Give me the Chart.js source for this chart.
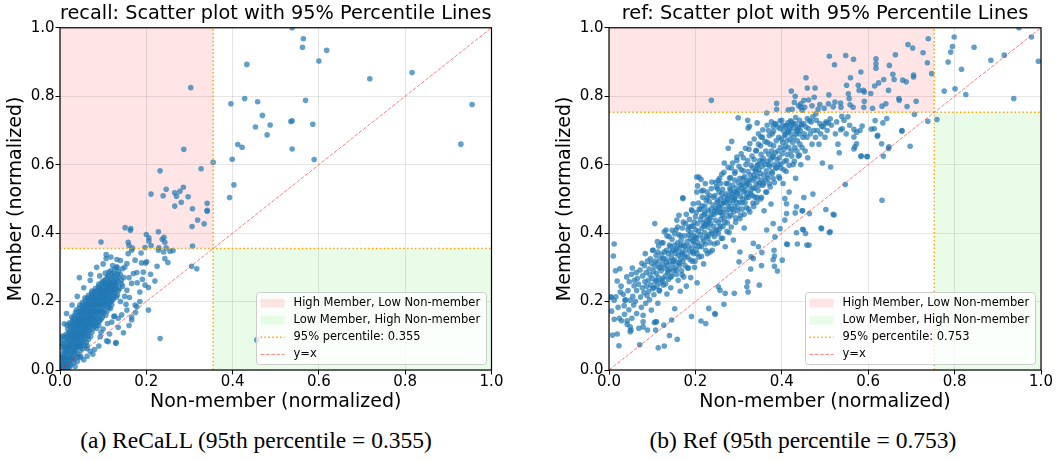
<!DOCTYPE html>
<html>
<head>
<meta charset="utf-8">
<script src="https://cdn.jsdelivr.net/npm/chart.js@4.4.0/dist/chart.umd.min.js"></script>
<style>
body { margin: 0; background: #fff; width: 1056px; height: 461px; position: relative; overflow: hidden; }
canvas { position: absolute; top: 0; }
.cap { position: absolute; top: 427px; font-family: 'Liberation Serif', serif; font-size: 23.5px; line-height: 26px; white-space: nowrap; transform: translateX(-50%); color: #000; }
</style>
</head>
<body>
<canvas id="recallChart" width="549" height="420" style="left:0"></canvas>
<canvas id="refChart" width="507" height="420" style="left:549px"></canvas>
<div class="cap" style="left:256px">(a) ReCaLL (95th percentile = 0.355)</div>
<div class="cap" style="left:803px">(b) Ref (95th percentile = 0.753)</div>
<script>
// [non-member, member] pairs
const recallPct = 0.355;
const refPct = 0.753;

const recallCore = [
  [0.003,0.005],[0.008,0.012],[0.012,0.006],[0.015,0.018],[0.004,0.022],[0.010,0.028],[0.018,0.010],[0.021,0.025],[0.006,0.035],[0.025,0.015],[0.013,0.032],[0.028,0.030],[0.002,0.015],[0.017,0.002],[0.022,0.008],[0.031,0.021],
  [0.005,0.045],[0.011,0.041],[0.018,0.048],[0.024,0.040],[0.030,0.044],[0.036,0.050],[0.042,0.046],[0.008,0.058],[0.015,0.055],[0.022,0.062],[0.028,0.057],[0.034,0.060],[0.040,0.065],[0.047,0.058],[0.052,0.063],[0.003,0.068],
  [0.007,0.075],[0.013,0.071],[0.019,0.078],[0.025,0.072],[0.031,0.080],[0.037,0.076],[0.043,0.083],[0.049,0.078],[0.055,0.085],[0.061,0.080],[0.010,0.088],[0.017,0.092],[0.023,0.086],[0.029,0.094],[0.035,0.089],[0.041,0.096],[0.047,0.091],[0.053,0.098],[0.059,0.093],[0.066,0.090],
  [0.014,0.104],[0.020,0.109],[0.026,0.102],[0.032,0.110],[0.038,0.105],[0.044,0.112],[0.050,0.106],[0.056,0.114],[0.062,0.108],[0.068,0.115],[0.074,0.110],[0.018,0.120],[0.025,0.126],[0.031,0.119],[0.037,0.127],[0.043,0.121],[0.049,0.129],[0.055,0.123],[0.061,0.131],[0.067,0.125],[0.073,0.132],[0.079,0.127],[0.085,0.122],
  [0.022,0.138],[0.029,0.143],[0.035,0.136],[0.041,0.145],[0.047,0.139],[0.053,0.147],[0.059,0.141],[0.065,0.149],[0.071,0.143],[0.077,0.151],[0.083,0.145],[0.089,0.140],[0.095,0.148],[0.027,0.155],[0.034,0.160],
  [0.040,0.156],[0.046,0.163],[0.052,0.157],[0.058,0.165],[0.064,0.159],[0.070,0.167],[0.076,0.161],[0.082,0.169],[0.088,0.163],[0.094,0.171],[0.100,0.165],[0.106,0.160],
  [0.038,0.176],[0.045,0.182],[0.051,0.175],[0.057,0.184],[0.063,0.178],[0.069,0.186],[0.075,0.180],[0.081,0.188],[0.087,0.182],[0.093,0.190],[0.099,0.184],[0.105,0.192],[0.111,0.186],[0.117,0.180],
  [0.052,0.197],[0.058,0.203],[0.064,0.196],[0.070,0.205],[0.076,0.199],[0.082,0.207],[0.088,0.201],[0.094,0.209],[0.100,0.203],[0.106,0.211],[0.112,0.205],[0.118,0.200],[0.124,0.208],
  [0.066,0.218],[0.073,0.224],[0.079,0.217],[0.085,0.226],[0.091,0.220],[0.097,0.228],[0.103,0.222],[0.109,0.230],[0.115,0.224],[0.121,0.232],[0.127,0.226],[0.133,0.219],
  [0.082,0.238],[0.089,0.244],[0.095,0.237],[0.101,0.246],[0.107,0.240],[0.113,0.248],[0.119,0.242],[0.125,0.250],[0.131,0.244],[0.138,0.238],
  [0.098,0.258],[0.106,0.265],[0.114,0.257],[0.121,0.268],[0.128,0.261],[0.135,0.271],[0.142,0.263],[0.112,0.276],[0.126,0.281],[0.140,0.279],[0.148,0.270],
  [0.118,0.290],[0.127,0.295],[0.135,0.288],[0.131,0.300],[0.122,0.305],[0.144,0.296]
];
const recallCoreFill = [
  [0.001,0.001],[0.006,0.002],[0.010,0.000],[0.001,0.008],[0.014,0.012],[0.020,0.016],
  [0.002,0.038],[0.009,0.036],[0.016,0.037],[0.023,0.034],[0.029,0.037],[0.035,0.033],[0.041,0.038],[0.047,0.036],
  [0.010,0.066],[0.017,0.067],[0.024,0.069],[0.031,0.066],[0.037,0.068],[0.044,0.070],[0.050,0.070],[0.057,0.072],[0.063,0.071],
  [0.006,0.099],[0.012,0.097],[0.019,0.099],[0.026,0.096],[0.033,0.099],[0.039,0.101],[0.046,0.100],[0.052,0.102],[0.058,0.101],[0.065,0.100],[0.071,0.098],
  [0.016,0.131],[0.023,0.133],[0.030,0.131],[0.036,0.134],[0.042,0.132],[0.048,0.134],[0.054,0.133],[0.060,0.135],[0.066,0.133],[0.072,0.136],[0.078,0.135],[0.084,0.132],[0.090,0.130],
  [0.031,0.150],[0.038,0.149],[0.044,0.151],[0.050,0.150],[0.056,0.152],[0.062,0.151],[0.068,0.153],[0.074,0.152],[0.080,0.154],[0.086,0.152],[0.092,0.155],[0.098,0.154],
  [0.036,0.168],[0.043,0.170],[0.049,0.169],[0.055,0.171],[0.061,0.170],[0.067,0.172],[0.073,0.171],[0.079,0.173],[0.085,0.172],[0.091,0.174],[0.097,0.173],[0.103,0.175],[0.109,0.172],
  [0.046,0.190],[0.053,0.189],[0.060,0.191],[0.066,0.190],[0.072,0.192],[0.078,0.191],[0.084,0.194],[0.090,0.193],[0.096,0.195],[0.102,0.196],[0.108,0.197],[0.114,0.194],[0.120,0.191],
  [0.058,0.211],[0.064,0.210],[0.071,0.212],[0.077,0.211],[0.083,0.213],[0.089,0.212],[0.095,0.215],[0.101,0.214],[0.107,0.216],[0.113,0.215],[0.119,0.217],[0.125,0.216],[0.131,0.213],
  [0.074,0.231],[0.080,0.230],[0.087,0.232],[0.093,0.231],[0.099,0.233],[0.105,0.233],[0.111,0.236],[0.117,0.235],[0.123,0.238],[0.129,0.236],[0.135,0.232],
  [0.090,0.251],[0.097,0.252],[0.104,0.253],[0.110,0.252],[0.117,0.254],[0.123,0.256],[0.129,0.254],[0.136,0.257],[0.142,0.252],
  [0.105,0.283],[0.113,0.286],[0.120,0.282],[0.133,0.280]
];
const recallCoreExtra = [
  [0.004,0.011],[0.009,0.019],[0.013,0.025],[0.007,0.029],[0.019,0.031],[0.011,0.050],[0.020,0.053],[0.027,0.049],[0.033,0.054],[0.014,0.063],[0.021,0.069],[0.038,0.071],[0.045,0.074],[0.016,0.083],[0.026,0.081],[0.033,0.085],[0.040,0.087],[0.050,0.088],
  [0.023,0.114],[0.029,0.106],[0.035,0.116],[0.041,0.108],[0.047,0.117],[0.053,0.110],[0.059,0.119],[0.065,0.112],[0.028,0.124],[0.040,0.124],[0.052,0.126],[0.064,0.128],[0.076,0.121],
  [0.033,0.141],[0.044,0.142],[0.056,0.144],[0.068,0.146],[0.080,0.140],[0.092,0.144],[0.049,0.160],[0.061,0.162],[0.073,0.164],[0.085,0.166],[0.097,0.168],
  [0.054,0.179],[0.066,0.181],[0.078,0.183],[0.090,0.186],[0.102,0.188],[0.114,0.183],[0.067,0.200],[0.079,0.202],[0.091,0.205],[0.103,0.207],[0.115,0.208],[0.121,0.204],
  [0.076,0.221],[0.088,0.223],[0.100,0.225],[0.112,0.227],[0.124,0.229],[0.092,0.241],[0.104,0.243],[0.116,0.245],[0.128,0.247],[0.102,0.261],[0.117,0.263],[0.131,0.266],[0.110,0.270],[0.124,0.274]
];
const recallSpread = [
  [0.232,0.092],[0.147,0.109],[0.130,0.080],[0.108,0.085],[0.076,0.046],[0.063,0.040],[0.153,0.192],[0.174,0.190],[0.166,0.146],[0.166,0.155],[0.126,0.158],[0.135,0.151],[0.185,0.228],[0.197,0.248],[0.191,0.265],[0.178,0.285],[0.166,0.253],[0.189,0.313],[0.198,0.313],[0.155,0.311],[0.158,0.340],[0.166,0.350],[0.188,0.342],[0.107,0.337],[0.107,0.326],[0.132,0.323],[0.132,0.301],[0.071,0.280],[0.243,0.326],[0.255,0.347],[0.305,0.303],[0.317,0.296],[0.174,0.321],[0.201,0.316],[0.193,0.286],[0.170,0.282],[0.179,0.255],[0.205,0.241],[0.225,0.303],[0.250,0.314],[0.155,0.233],[0.161,0.212],[0.178,0.185],[0.205,0.175],[0.125,0.156],[0.143,0.161],[0.110,0.136],[0.129,0.078],[0.112,0.083],[0.093,0.097],[0.062,0.063],[0.456,0.088],
  [0.002,0.095],[0.004,0.080],[0.010,0.135],[0.015,0.165],[0.028,0.190],[0.040,0.215],[0.055,0.240],[0.045,0.270],[0.070,0.262],[0.085,0.300],[0.092,0.275],[0.100,0.310],[0.118,0.330],[0.140,0.320],[0.150,0.300],[0.145,0.245],[0.160,0.270],[0.150,0.215],[0.140,0.200],[0.155,0.175],[0.120,0.140],[0.135,0.125],[0.100,0.120],[0.115,0.105],[0.090,0.070],[0.070,0.055],[0.055,0.030],[0.040,0.025],[0.035,0.010],[0.048,0.040],[0.080,0.060],[0.095,0.110],[0.160,0.130],[0.175,0.168],[0.185,0.200],[0.210,0.280],[0.220,0.260],[0.228,0.350],[0.262,0.349],[0.240,0.345]
];
const recallHigh = [
  [0.303,0.825],[0.287,0.645],[0.355,0.607],[0.327,0.588],[0.232,0.582],[0.286,0.534],[0.246,0.528],[0.266,0.518],[0.278,0.522],[0.211,0.514],[0.239,0.509],[0.270,0.508],[0.297,0.506],[0.281,0.490],[0.266,0.479],[0.307,0.471],[0.341,0.487],[0.341,0.467],[0.341,0.464],[0.319,0.438],[0.334,0.427],[0.306,0.419],[0.151,0.416],[0.164,0.413],[0.163,0.408],[0.095,0.374],[0.200,0.396],[0.206,0.386],[0.206,0.377],[0.228,0.404],[0.241,0.388],[0.237,0.382],[0.243,0.373],[0.158,0.373],[0.160,0.364],[0.197,0.358],[0.211,0.364],[0.229,0.357],[0.246,0.357],[0.307,0.362],[0.168,0.356]
];
const recallFar = [
  [0.538,1.0],[0.564,0.968],[0.562,0.943],[0.618,0.934],[0.600,0.903],[0.433,0.893],[0.718,0.851],[0.816,0.869],[0.428,0.793],[0.458,0.784],[0.569,0.788],[0.396,0.778],[0.955,0.776],[0.469,0.744],[0.535,0.726],[0.538,0.728],[0.586,0.718],[0.453,0.710],[0.487,0.716],[0.480,0.687],[0.412,0.659],[0.422,0.651],[0.538,0.646],[0.929,0.660],[0.589,0.615],[0.399,0.616],[0.403,0.541],[0.393,0.504]
];

const refLow = [
  [0.012,0.368],[0.010,0.333],[0.019,0.260],[0.004,0.212],[0.016,0.214],[0.012,0.148],[0.008,0.102],[0.019,0.105],[0.023,0.071],[0.026,0.228],[0.021,0.183],[0.028,0.245],[0.006,0.172],[0.025,0.296],[0.015,0.290],[0.005,0.214],[0.012,0.204],[0.037,0.204],[0.049,0.204],[0.024,0.151],
  [0.029,0.144],[0.042,0.144],[0.049,0.112],[0.051,0.117],[0.035,0.188],[0.038,0.205],[0.044,0.232],[0.047,0.258],[0.052,0.280],[0.041,0.272],[0.055,0.215],[0.058,0.246],[0.033,0.221],[0.057,0.190],[0.046,0.176],[0.054,0.298],[0.059,0.262],[0.036,0.163],[0.042,0.134],[0.049,0.126],[0.053,0.151],
  [0.061,0.201],[0.064,0.232],[0.066,0.268],[0.068,0.251],[0.069,0.122],[0.071,0.074],[0.072,0.292],[0.073,0.213],[0.075,0.183],[0.077,0.240],[0.078,0.275],[0.079,0.160],[0.081,0.226],[0.082,0.305],[0.083,0.258],[0.084,0.340],[0.085,0.195],[0.086,0.285],[0.087,0.245],[0.088,0.218],[0.089,0.318],[0.063,0.285],[0.076,0.312],[0.064,0.165],[0.079,0.141],[0.079,0.126],[0.089,0.117],
  [0.091,0.262],[0.092,0.230],[0.093,0.295],[0.094,0.205],[0.095,0.278],[0.096,0.325],[0.097,0.248],[0.098,0.175],[0.099,0.312],[0.100,0.268],[0.101,0.238],[0.102,0.350],[0.103,0.288],[0.104,0.220],[0.105,0.302],[0.106,0.428],[0.107,0.258],[0.108,0.141],[0.109,0.335],[0.110,0.282],[0.111,0.245],[0.112,0.312],[0.113,0.195],[0.114,0.270],[0.115,0.362],[0.116,0.298],[0.117,0.232],[0.118,0.325],[0.119,0.255],[0.114,0.065],[0.112,0.375],[0.108,0.117],[0.110,0.141],
  [0.121,0.290],[0.122,0.338],[0.123,0.262],[0.124,0.310],[0.125,0.372],[0.126,0.248],[0.127,0.131],[0.128,0.070],[0.128,0.404],[0.129,0.298],[0.130,0.325],[0.131,0.275],[0.132,0.409],[0.133,0.350],[0.134,0.222],[0.135,0.305],[0.136,0.285],[0.137,0.340],[0.138,0.265],[0.139,0.390],[0.140,0.101],[0.140,0.318],[0.141,0.295],[0.142,0.360],[0.143,0.240],[0.144,0.330],[0.145,0.275],[0.146,0.382],[0.147,0.308],[0.148,0.350],[0.149,0.290],[0.125,0.325],[0.133,0.315],[0.145,0.345],[0.145,0.146],[0.105,0.139]
];
const refMid = [
  [0.151,0.322],[0.152,0.179],[0.152,0.365],[0.153,0.298],[0.154,0.340],[0.155,0.410],[0.156,0.280],[0.157,0.438],[0.157,0.350],[0.158,0.090],[0.158,0.315],[0.159,0.372],[0.160,0.262],[0.161,0.335],[0.162,0.452],[0.162,0.395],[0.163,0.305],[0.164,0.358],[0.165,0.230],[0.166,0.325],[0.167,0.380],[0.168,0.290],[0.169,0.345],[0.170,0.415],[0.171,0.501],[0.171,0.318],[0.172,0.365],[0.173,0.272],[0.174,0.338],[0.175,0.392],[0.176,0.305],[0.177,0.428],[0.178,0.352],[0.179,0.245],[0.155,0.355],[0.165,0.365],[0.175,0.362],[0.168,0.340],
  [0.181,0.375],[0.182,0.330],[0.183,0.410],[0.184,0.298],[0.185,0.362],[0.186,0.440],[0.187,0.345],[0.188,0.385],[0.189,0.270],[0.190,0.402],[0.191,0.156],[0.191,0.355],[0.192,0.465],[0.193,0.318],[0.194,0.378],[0.195,0.486],[0.195,0.420],[0.196,0.340],[0.197,0.392],[0.198,0.300],[0.199,0.365],[0.200,0.448],[0.201,0.410],[0.202,0.352],[0.203,0.520],[0.203,0.385],[0.204,0.255],[0.205,0.538],[0.205,0.428],[0.206,0.372],[0.207,0.405],[0.208,0.564],[0.208,0.330],[0.209,0.470],[0.185,0.395],[0.195,0.375],[0.200,0.388],[0.190,0.420],
  [0.211,0.395],[0.212,0.440],[0.213,0.557],[0.213,0.143],[0.214,0.360],[0.214,0.523],[0.215,0.415],[0.216,0.480],[0.217,0.385],[0.218,0.525],[0.218,0.430],[0.219,0.310],[0.220,0.455],[0.221,0.402],[0.222,0.478],[0.223,0.545],[0.223,0.368],[0.224,0.136],[0.224,0.425],[0.225,0.495],[0.226,0.390],[0.227,0.448],[0.228,0.504],[0.228,0.340],[0.229,0.418],[0.230,0.465],[0.231,0.180],[0.231,0.395],[0.232,0.440],[0.233,0.510],[0.234,0.372],[0.235,0.428],[0.236,0.470],[0.237,0.405],[0.238,0.549],[0.238,0.455],[0.239,0.350],[0.215,0.450],[0.225,0.435],[0.235,0.445],[0.220,0.420],[0.230,0.430],
  [0.241,0.482],[0.242,0.420],[0.243,0.455],[0.244,0.390],[0.245,0.165],[0.245,0.510],[0.246,0.163],[0.246,0.438],[0.247,0.472],[0.248,0.405],[0.249,0.535],[0.250,0.460],[0.251,0.372],[0.252,0.495],[0.253,0.554],[0.253,0.430],[0.254,0.478],[0.255,0.520],[0.256,0.412],[0.257,0.462],[0.258,0.500],[0.259,0.440],[0.260,0.385],[0.261,0.572],[0.261,0.485],[0.262,0.452],[0.263,0.528],[0.264,0.420],[0.265,0.470],[0.266,0.192],[0.266,0.505],[0.267,0.605],[0.267,0.445],[0.268,0.490],[0.269,0.224],[0.269,0.360],[0.245,0.465],[0.255,0.475],[0.265,0.488],[0.250,0.490],[0.260,0.460],[0.258,0.545],[0.257,0.233],[0.253,0.243],
  [0.271,0.515],[0.272,0.460],[0.273,0.495],[0.274,0.430],[0.275,0.545],[0.276,0.478],[0.277,0.510],[0.278,0.402],[0.279,0.560],[0.280,0.488],[0.281,0.525],[0.282,0.452],[0.283,0.590],[0.284,0.505],[0.285,0.470],[0.286,0.540],[0.287,0.495],[0.288,0.380],[0.289,0.520],[0.290,0.224],[0.290,0.478],[0.291,0.555],[0.292,0.505],[0.293,0.445],[0.294,0.532],[0.295,0.490],[0.296,0.612],[0.297,0.515],[0.298,0.465],[0.299,0.737],[0.299,0.548],[0.275,0.500],[0.285,0.515],[0.295,0.520],[0.280,0.530],[0.290,0.500],[0.278,0.470],[0.292,0.580],[0.276,0.648],[0.284,0.668],[0.203,0.564],[0.171,0.503]
];
const refUpper = [
  [0.301,0.316],[0.301,0.525],[0.302,0.490],[0.303,0.560],[0.304,0.508],[0.305,0.452],[0.306,0.585],[0.307,0.532],[0.308,0.470],[0.309,0.545],[0.310,0.500],[0.311,0.620],[0.312,0.520],[0.313,0.415],[0.314,0.565],[0.315,0.490],[0.316,0.538],[0.317,0.600],[0.318,0.475],[0.319,0.243],[0.319,0.552],[0.320,0.515],[0.321,0.730],[0.321,0.258],[0.322,0.228],[0.322,0.580],[0.323,0.505],[0.324,0.645],[0.325,0.712],[0.325,0.540],[0.326,0.462],[0.327,0.570],[0.328,0.295],[0.328,0.525],[0.329,0.598],[0.305,0.540],[0.315,0.525],[0.325,0.555],[0.310,0.560],[0.320,0.545],
  [0.331,0.555],[0.332,0.510],[0.333,0.590],[0.334,0.532],[0.335,0.478],[0.336,0.615],[0.337,0.560],[0.338,0.505],[0.339,0.580],[0.340,0.640],[0.341,0.545],[0.342,0.490],[0.343,0.722],[0.343,0.598],[0.344,0.565],[0.345,0.525],[0.346,0.660],[0.347,0.585],[0.348,0.248],[0.348,0.540],[0.349,0.612],[0.350,0.575],[0.351,0.500],[0.352,0.630],[0.353,0.305],[0.353,0.555],[0.354,0.343],[0.354,0.595],[0.355,0.680],[0.356,0.540],[0.357,0.618],[0.358,0.570],[0.359,0.465],[0.335,0.570],[0.345,0.600],[0.355,0.610],[0.340,0.585],
  [0.361,0.600],[0.362,0.555],[0.363,0.640],[0.364,0.582],[0.365,0.751],[0.365,0.520],[0.366,0.665],[0.367,0.610],[0.368,0.570],[0.369,0.700],[0.370,0.630],[0.371,0.545],[0.372,0.595],[0.373,0.660],[0.374,0.615],[0.375,0.485],[0.376,0.640],[0.377,0.580],[0.378,0.690],[0.379,0.622],[0.380,0.322],[0.380,0.560],[0.381,0.655],[0.382,0.600],[0.383,0.303],[0.384,0.720],[0.385,0.635],[0.386,0.590],[0.387,0.670],[0.388,0.779],[0.388,0.762],[0.389,0.615],[0.390,0.289],[0.370,0.600],[0.380,0.625],
  [0.391,0.640],[0.392,0.600],[0.393,0.680],[0.394,0.620],[0.395,0.560],[0.396,0.705],[0.397,0.650],[0.398,0.590],[0.399,0.675],[0.400,0.730],[0.401,0.321],[0.401,0.632],[0.402,0.665],[0.403,0.545],[0.404,0.700],[0.405,0.645],[0.406,0.610],[0.407,0.685],[0.408,0.712],[0.409,0.655],[0.410,0.580],[0.411,0.368],[0.411,0.715],[0.412,0.670],[0.413,0.630],[0.414,0.695],[0.415,0.760],[0.416,0.650],[0.417,0.520],[0.418,0.705],[0.419,0.675],
  [0.421,0.690],[0.422,0.640],[0.423,0.725],[0.424,0.762],[0.425,0.665],[0.426,0.600],[0.427,0.705],[0.428,0.680],[0.429,0.782],[0.430,0.650],[0.431,0.720],[0.432,0.560],[0.433,0.690],[0.434,0.401],[0.435,0.698],[0.436,0.670],[0.437,0.710],[0.438,0.625],[0.439,0.772],[0.440,0.690],[0.441,0.730],[0.442,0.660],[0.443,0.700],[0.444,0.600],[0.445,0.718],[0.446,0.715],[0.447,0.465],[0.448,0.411],[0.449,0.680],
  [0.303,0.345],[0.334,0.370],[0.346,0.360],[0.329,0.331],[0.334,0.326],[0.365,0.409],[0.380,0.428],[0.384,0.389],[0.396,0.413],[0.407,0.438],[0.411,0.457],[0.431,0.459],[0.434,0.477],[0.411,0.486],[0.407,0.501],[0.382,0.350],[0.383,0.333],[0.436,0.368],[0.413,0.367],[0.322,0.707],[0.352,0.681],[0.380,0.712],[0.415,0.700],[0.421,0.715],[0.450,0.410],[0.448,0.465]
];
const refCoreFill = [
  [0.101,0.350],[0.104,0.240],[0.107,0.318],[0.110,0.262],[0.113,0.345],[0.116,0.232],[0.119,0.300],[0.122,0.372],[0.125,0.268],[0.128,0.345],[0.131,0.252],[0.134,0.392],[0.137,0.290],[0.140,0.365],[0.143,0.272],[0.146,0.408],[0.149,0.318],
  [0.152,0.398],[0.156,0.292],[0.159,0.418],[0.163,0.312],[0.166,0.392],[0.169,0.278],[0.172,0.432],[0.176,0.330],[0.179,0.455],[0.182,0.298],[0.185,0.418],[0.188,0.322],[0.191,0.468],[0.194,0.345],[0.197,0.432],[0.199,0.318],
  [0.202,0.460],[0.204,0.340],[0.207,0.488],[0.209,0.362],[0.212,0.470],[0.214,0.332],[0.217,0.505],[0.219,0.375],[0.222,0.462],[0.224,0.350],[0.227,0.520],[0.229,0.385],[0.232,0.492],[0.234,0.345],[0.237,0.530],[0.239,0.398],[0.242,0.505],[0.244,0.368],[0.247,0.548],[0.249,0.410],
  [0.251,0.530],[0.253,0.398],[0.256,0.560],[0.258,0.420],[0.261,0.515],[0.263,0.385],[0.266,0.578],[0.268,0.432],[0.271,0.545],[0.273,0.405],[0.276,0.592],[0.278,0.448],[0.281,0.562],[0.283,0.418],[0.286,0.605],[0.288,0.462],[0.291,0.575],[0.293,0.432],[0.296,0.622],[0.298,0.475],
  [0.301,0.595],[0.303,0.442],[0.306,0.632],[0.308,0.488],[0.311,0.582],[0.313,0.455],[0.316,0.648],[0.318,0.505],[0.321,0.612],[0.323,0.470],[0.326,0.662],[0.328,0.515],[0.331,0.625],[0.333,0.488],[0.336,0.675],[0.338,0.532],[0.341,0.642],[0.343,0.505],[0.346,0.690],[0.348,0.548],
  [0.351,0.655],[0.353,0.505],[0.356,0.702],[0.358,0.545],[0.361,0.668],[0.363,0.520],[0.366,0.715],[0.368,0.560],[0.371,0.685],[0.373,0.535],[0.376,0.725],[0.378,0.575],[0.381,0.698],[0.383,0.548],[0.386,0.718],[0.388,0.590],[0.391,0.710],[0.393,0.565],[0.396,0.728],[0.398,0.602],
  [0.402,0.715],[0.405,0.585],[0.408,0.688],[0.411,0.612],[0.414,0.722],[0.417,0.598],[0.420,0.728],[0.423,0.625],[0.426,0.718],[0.429,0.610],[0.432,0.738],[0.435,0.640],[0.438,0.705],[0.441,0.628],[0.444,0.768],[0.447,0.650]
];
const refTail = [
  [0.451,0.504],[0.451,0.720],[0.452,0.690],[0.453,0.768],[0.454,0.640],[0.455,0.399],[0.456,0.710],[0.458,0.365],[0.458,0.680],[0.459,0.735],[0.460,0.620],[0.462,0.705],[0.464,0.457],[0.464,0.728],[0.466,0.690],[0.468,0.725],[0.470,0.660],[0.472,0.514],[0.472,0.740],[0.474,0.700],[0.478,0.680],[0.479,0.749],
  [0.480,0.730],[0.482,0.700],[0.484,0.762],[0.486,0.660],[0.488,0.720],[0.490,0.690],[0.491,0.415],[0.492,0.712],[0.494,0.605],[0.496,0.710],[0.500,0.680],[0.500,0.720],[0.502,0.469],[0.503,0.725],[0.505,0.700],[0.508,0.722],[0.510,0.402],
  [0.512,0.404],[0.512,0.734],[0.513,0.593],[0.515,0.715],[0.519,0.455],[0.519,0.769],[0.521,0.453],[0.524,0.690],[0.527,0.725],[0.530,0.660],[0.533,0.635],[0.536,0.702],[0.539,0.741],[0.540,0.705],[0.544,0.730],[0.547,0.542],[0.549,0.690],
  [0.553,0.740],[0.557,0.715],[0.558,0.775],[0.567,0.646],[0.567,0.681],[0.567,0.703],[0.569,0.652],[0.573,0.661],[0.573,0.695],[0.581,0.700],[0.583,0.624],[0.584,0.626],[0.586,0.713],[0.591,0.785],[0.597,0.624],[0.598,0.624],
  [0.607,0.704],[0.614,0.705],[0.616,0.729],[0.621,0.683],[0.622,0.686],[0.631,0.661],[0.632,0.496],[0.634,0.722],[0.635,0.625],[0.643,0.735],[0.647,0.647],[0.648,0.652],[0.678,0.698],[0.678,0.700],[0.697,0.654],[0.707,0.747],[0.738,0.727],[0.759,0.732],[0.463,0.365],[0.492,0.413]
];
const refHigh = [
  [0.739,0.968],[0.692,0.951],[0.703,0.941],[0.727,0.927],[0.737,0.898],[0.747,0.866],[0.663,0.921],[0.618,0.909],[0.618,0.895],[0.618,0.882],[0.649,0.890],[0.657,0.864],[0.660,0.849],[0.636,0.849],[0.680,0.847],[0.688,0.842],[0.705,0.862],[0.705,0.856],[0.624,0.839],[0.615,0.830],[0.647,0.817],[0.671,0.793],[0.672,0.788],[0.711,0.785],[0.589,0.817],[0.591,0.812],[0.606,0.808],[0.577,0.832],[0.579,0.817],[0.554,0.807],[0.556,0.793],[0.550,0.832],[0.536,0.780],[0.523,0.783],[0.509,0.804],[0.475,0.797],[0.459,0.824],[0.477,0.824],[0.451,0.788],[0.444,0.778],[0.510,0.917],[0.548,0.919],[0.566,0.908],[0.522,0.892],[0.456,0.854],[0.583,0.871],[0.559,0.854],[0.632,0.771],[0.641,0.778],[0.422,0.815],[0.431,0.800],[0.462,0.789],[0.488,0.776],[0.508,0.778],[0.237,0.788],[0.565,0.768],[0.590,0.768],[0.537,0.768],[0.610,0.765],[0.498,0.765],[0.470,0.772],[0.690,0.770],[0.447,0.759]
];
const refFar = [
  [0.949,1.0],[0.799,0.973],[0.978,0.973],[0.795,0.945],[0.791,0.929],[0.845,0.943],[0.785,0.900],[0.816,0.879],[0.884,0.905],[0.915,0.920],[0.994,0.902],[0.776,0.815],[0.801,0.822],[0.826,0.805],[0.937,0.793]
];

const pinkFill = 'rgba(255,0,0,0.1)';
const greenFill = 'rgba(0,220,0,0.09)';
const dotColor = 'rgba(31,119,180,0.7)';

Chart.defaults.font.family = "'DejaVu Sans', sans-serif";
Chart.defaults.color = '#000';

const frameAndLegend = {
  id: 'frameAndLegend',
  afterDatasetsDraw(chart, args, opts) {
    const ctx = chart.ctx;
    const a = chart.chartArea;
    ctx.save();
    ctx.strokeStyle = '#000';
    ctx.lineWidth = 1.2;
    ctx.strokeRect(a.left, a.top, a.right - a.left, a.bottom - a.top);

    const w = 230, h = 72;
    const x0 = Math.round(a.right - 6 - w) + 0.5;
    const y0 = Math.round(a.bottom - 6 - h) + 0.5;
    ctx.beginPath();
    ctx.roundRect(x0, y0, w, h, 3);
    ctx.fillStyle = 'rgba(255,255,255,0.8)';
    ctx.fill();
    ctx.strokeStyle = '#cccccc';
    ctx.lineWidth = 1;
    ctx.stroke();

    ctx.font = "11.5px 'DejaVu Sans'";
    ctx.textBaseline = 'middle';
    ctx.textAlign = 'left';
    opts.labels.forEach((label, i) => {
      const yc = y0 + 10.6 + i * 17.1;
      if (i === 0 || i === 1) {
        ctx.fillStyle = i === 0 ? pinkFill : greenFill;
        ctx.fillRect(x0 + 4, yc - 4.5, 24, 9);
      } else {
        ctx.beginPath();
        ctx.setLineDash(i === 2 ? [1.5, 2.4] : [3.7, 1.6]);
        ctx.strokeStyle = i === 2 ? 'orange' : 'rgba(255,0,0,0.5)';
        ctx.lineWidth = i === 2 ? 1.5 : 1;
        ctx.moveTo(x0 + 4, yc);
        ctx.lineTo(x0 + 28, yc);
        ctx.stroke();
        ctx.setLineDash([]);
      }
      ctx.fillStyle = '#000';
      ctx.fillText(label, x0 + 37, yc);
    });
    ctx.restore();
  }
};

function axis(label, isX) {
  return {
    type: 'linear', min: 0, max: 1,
    ticks: { stepSize: 0.2, callback: v => v.toFixed(1), font: { size: 15, lineHeight: 1 }, padding: isX ? 0.5 : 1, color: '#000' },
    grid: { color: 'rgba(0,0,0,0.1)', tickColor: '#000', tickLength: 4.5, tickWidth: 1 },
    border: { display: false },
    title: { display: true, text: label, font: { size: 19 }, color: '#000', padding: isX ? { top: 0, bottom: 7 } : { top: 5, bottom: 0 } },
    afterFit(scale) {
      if (isX) scale.height = 50; else scale.width = 60;
    }
  };
}

function buildChart(id, title, groups, pct, padRight) {
  const pts = [].concat(...groups).map(p => ({ x: p[0], y: p[1] }));
  return new Chart(document.getElementById(id), {
    type: 'scatter',
    data: {
      datasets: [
        { data: pts, backgroundColor: dotColor, pointRadius: 2.8, pointBorderWidth: 0, pointHoverRadius: 2.8, order: 2 },
        { type: 'line', data: [{ x: 0, y: 0 }, { x: 1, y: 1 }], borderColor: 'rgba(255,0,0,0.5)', borderWidth: 1, borderDash: [3.7, 1.6], pointRadius: 0, fill: false, order: 1 },
        { type: 'line', data: [{ x: pct, y: 0 }, { x: pct, y: 1 }], borderColor: 'orange', borderWidth: 1.5, borderDash: [1.5, 2.4], pointRadius: 0, fill: false, order: 1 },
        { type: 'line', data: [{ x: 0, y: pct }, { x: 1, y: pct }], borderColor: 'orange', borderWidth: 1.5, borderDash: [1.5, 2.4], pointRadius: 0, fill: false, order: 1 },
        { type: 'line', data: [{ x: 0, y: 1 }, { x: pct, y: 1 }], fill: { value: pct }, backgroundColor: pinkFill, borderWidth: 0, pointRadius: 0, order: 3 },
        { type: 'line', data: [{ x: pct, y: pct }, { x: 1, y: pct }], fill: { value: 0 }, backgroundColor: greenFill, borderWidth: 0, pointRadius: 0, order: 3 }
      ]
    },
    options: {
      responsive: false,
      animation: false,
      events: [],
      layout: { padding: { right: padRight } },
      scales: {
        x: axis('Non-member (normalized)', true),
        y: axis('Member (normalized)', false)
      },
      plugins: {
        legend: { display: false },
        tooltip: { enabled: false },
        title: { display: true, text: title, fullSize: false, font: { size: 19.4, weight: 'normal' }, color: '#000', padding: { top: 2, bottom: 2.5 } },
        frameAndLegend: {
          labels: ['High Member, Low Non-member', 'Low Member, High Non-member', '95% percentile: ' + pct.toFixed(3), 'y=x']
        }
      }
    },
    plugins: [frameAndLegend]
  });
}

buildChart('recallChart', 'recall: Scatter plot with 95% Percentile Lines', [recallCore, recallCoreFill, recallCoreExtra, recallSpread, recallHigh, recallFar], recallPct, 57.5);
buildChart('refChart', 'ref: Scatter plot with 95% Percentile Lines', [refLow, refMid, refUpper, refCoreFill, refTail, refHigh, refFar], refPct, 15);
</script>
</body>
</html>
